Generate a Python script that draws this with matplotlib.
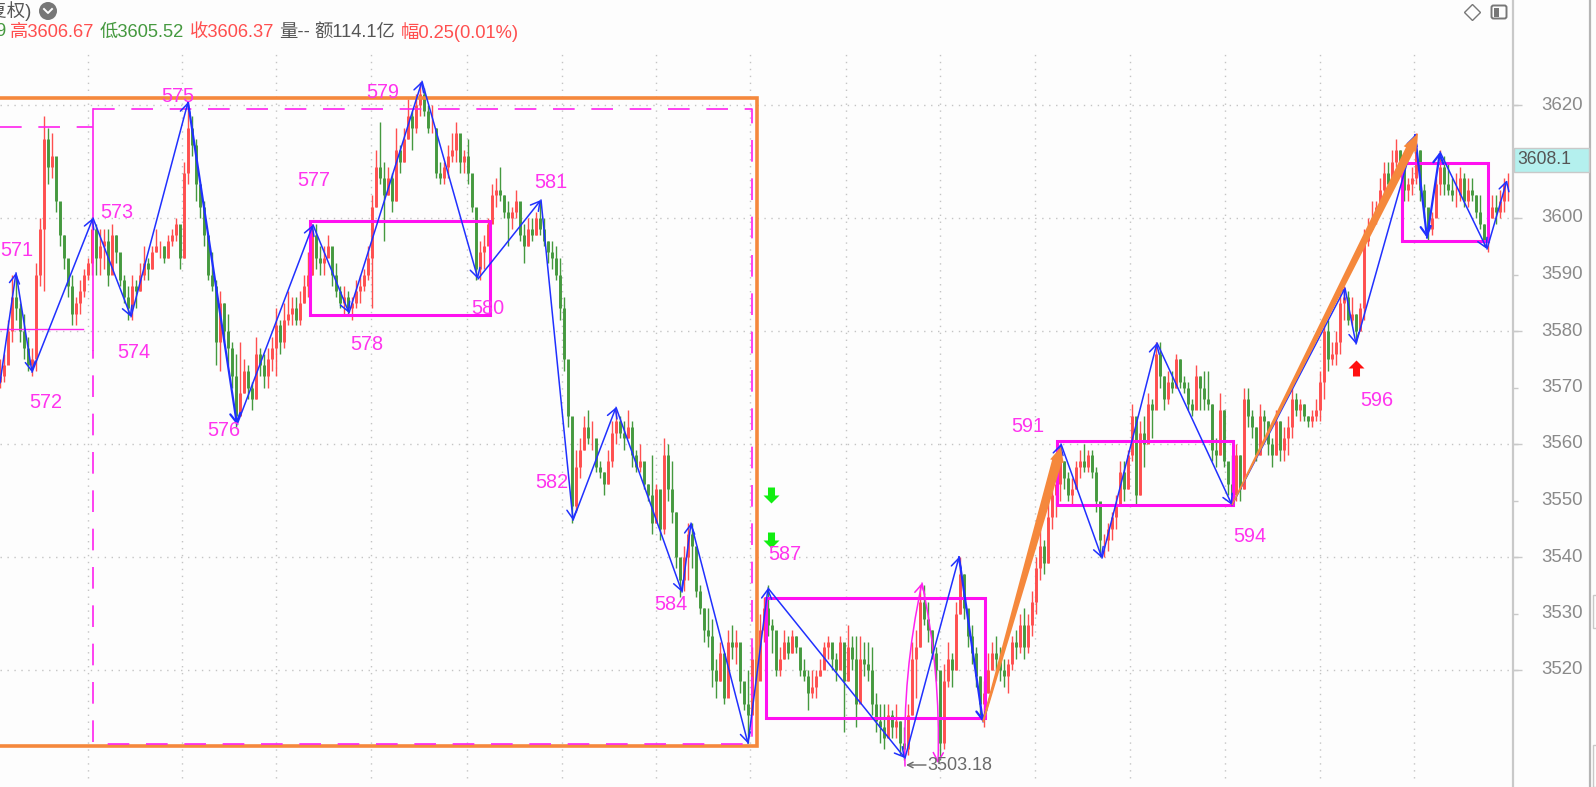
import numpy as np
import matplotlib
matplotlib.use("Agg")
import matplotlib.pyplot as plt
from matplotlib.patches import Rectangle, FancyBboxPatch, Circle
from matplotlib.path import Path
from matplotlib.lines import Line2D
from matplotlib.transforms import Affine2D

W, H = 1596, 787
FONT = ["Liberation Sans", "Noto Sans CJK SC"]
plt.rcParams["font.family"] = FONT

# one row per zigzag leg
highs = [
    3575, 3576, 3582, 3590,
    3590, 3585, 3583, 3579, 3577,
    3592, 3600, 3618, 3616, 3615, 3609, 3602, 3597, 3592, 3590, 3586, 3589, 3591, 3593, 3600,
    3599, 3598, 3598, 3598, 3599, 3597, 3591, 3590, 3588, 3590,
    3589, 3592, 3595, 3593, 3595, 3598, 3596, 3595, 3597, 3598, 3600, 3598, 3610, 3620,
    3618, 3614, 3606, 3603, 3595, 3594, 3589, 3587, 3585, 3583, 3578, 3576,
    3578, 3575, 3574, 3571, 3579, 3577, 3576, 3577, 3579, 3584, 3582, 3585, 3587, 3586, 3586, 3587, 3590, 3594, 3599,
    3599, 3595, 3595, 3597, 3594, 3592, 3588, 3588, 3587,
    3586, 3589, 3590, 3591, 3595, 3604, 3612, 3617, 3610, 3609, 3608, 3616, 3613, 3616, 3621, 3619, 3622, 3624,
    3623, 3620, 3620, 3616, 3610, 3610, 3613, 3615, 3617, 3614, 3612, 3614, 3607, 3598,
    3596, 3597, 3600, 3606, 3607, 3609, 3604, 3603, 3602, 3605, 3602, 3599, 3600, 3600, 3601, 3603,
    3600, 3596, 3596, 3595, 3593, 3586, 3574, 3563,
    3559, 3561, 3565, 3566, 3564, 3558, 3557, 3555, 3559, 3564, 3566,
    3565, 3564, 3566, 3564, 3559, 3560, 3555, 3553, 3558, 3553, 3551, 3561, 3560, 3557, 3548, 3539,
    3542, 3546, 3546,
    3540, 3535, 3531, 3531, 3529, 3522, 3525, 3522, 3527, 3528, 3527, 3524, 3517, 3520,
    3524, 3527, 3530, 3533, 3535,
    3529, 3524, 3524, 3527, 3526, 3527, 3526, 3522, 3522, 3520, 3520, 3520, 3522, 3525, 3526, 3524, 3523,
    3526, 3521, 3528, 3526, 3526, 3526, 3525, 3525, 3524, 3516, 3514, 3514, 3514, 3513, 3514, 3511, 3510,
    3514, 3525, 3527, 3535, 3535, 3532, 3527, 3524, 3516, 3521, 3525, 3523, 3532, 3540,
    3537, 3530, 3528, 3524, 3519, 3518,
    3523, 3525, 3526, 3524, 3522, 3522, 3526, 3527, 3530, 3531, 3530, 3534, 3540, 3545, 3543, 3550, 3553, 3556, 3560,
    3557, 3555, 3554, 3557, 3559, 3560, 3559, 3559, 3556, 3549,
    3544, 3546, 3548, 3551, 3557, 3557, 3559, 3567, 3559, 3564, 3565, 3569, 3568, 3578,
    3578, 3572, 3573, 3573, 3576, 3575, 3572, 3571, 3568, 3574, 3572, 3573, 3573, 3567, 3561, 3569, 3566, 3556, 3558,
    3560, 3558, 3570, 3570, 3566, 3563, 3567, 3566, 3564, 3561, 3566, 3564, 3563, 3565, 3570, 3569, 3568, 3567, 3565,
    3566, 3568, 3573, 3582, 3582, 3578, 3580, 3587, 3588,
    3587, 3586, 3583,
    3585, 3598, 3600, 3603, 3603, 3607, 3610, 3610, 3612, 3614, 3612, 3608, 3607, 3609, 3615,
    3612, 3606, 3601,
    3601, 3607, 3612,
    3611, 3610, 3607, 3608, 3609, 3608, 3607, 3607, 3604, 3604, 3599, 3602,
    3604, 3604, 3605, 3607, 3608,
]
lows = [
    3570, 3571, 3575, 3578,
    3582, 3578, 3575, 3573, 3572,
    3573, 3588, 3587, 3606, 3607, 3601, 3595, 3591, 3586, 3581, 3581, 3583, 3586, 3589, 3590,
    3590, 3590, 3591, 3588, 3592, 3592, 3588, 3585, 3582, 3582,
    3584, 3587, 3589, 3589, 3591, 3594, 3593, 3592, 3593, 3595, 3596, 3591, 3593, 3606,
    3611, 3603, 3600, 3595, 3589, 3587, 3574, 3573, 3578, 3574, 3570, 3563,
    3566, 3569, 3568, 3566, 3568, 3572, 3570, 3570, 3573, 3572, 3576, 3577, 3581, 3581, 3581, 3581, 3585, 3586, 3590,
    3591, 3590, 3590, 3594, 3588, 3586, 3584, 3583, 3583,
    3582, 3584, 3585, 3587, 3589, 3584, 3602, 3606, 3596, 3604, 3601, 3603, 3608, 3610, 3614, 3612, 3615, 3618,
    3618, 3615, 3615, 3607, 3606, 3606, 3607, 3610, 3610, 3608, 3608, 3606, 3601, 3589,
    3589, 3591, 3596, 3600, 3602, 3603, 3600, 3595, 3598, 3600, 3596, 3592, 3595, 3596, 3597, 3597,
    3595, 3592, 3591, 3589, 3582, 3573, 3563, 3546,
    3548, 3554, 3559, 3560, 3559, 3555, 3554, 3551, 3553, 3556, 3560,
    3561, 3559, 3561, 3556, 3555, 3555, 3552, 3550, 3544, 3546, 3543, 3544, 3550, 3546, 3538, 3533,
    3534, 3536, 3538,
    3533, 3530, 3525, 3524, 3517, 3515, 3518, 3514, 3518, 3522, 3521, 3516, 3513, 3507,
    3512, 3516, 3520, 3525, 3526,
    3523, 3519, 3519, 3522, 3522, 3523, 3523, 3519, 3518, 3513, 3515, 3515, 3519, 3521, 3522, 3520, 3518,
    3521, 3509, 3518, 3520, 3510, 3518, 3519, 3518, 3512, 3509, 3507, 3506, 3509, 3508, 3508, 3505, 3504,
    3505, 3512, 3515, 3524, 3528, 3525, 3522, 3518, 3504, 3506, 3517, 3517, 3520, 3530,
    3529, 3524, 3521, 3517, 3512, 3510,
    3516, 3520, 3520, 3518, 3517, 3516, 3520, 3522, 3523, 3522, 3523, 3526, 3530, 3536, 3537, 3539, 3545, 3547, 3550,
    3552, 3550, 3549, 3552, 3554, 3555, 3555, 3554, 3548, 3540,
    3540, 3541, 3543, 3545, 3551, 3550, 3552, 3557, 3549, 3551, 3556, 3561, 3561, 3567,
    3570, 3566, 3567, 3569, 3570, 3570, 3569, 3566, 3565, 3567, 3566, 3566, 3566, 3557, 3556, 3558, 3556, 3551, 3549,
    3550, 3550, 3552, 3563, 3561, 3557, 3558, 3561, 3558, 3556, 3558, 3557, 3557, 3558, 3561, 3565, 3564, 3564, 3563,
    3563, 3564, 3564, 3568, 3573, 3574, 3574, 3576, 3582,
    3581, 3581, 3578,
    3580, 3582, 3595, 3598, 3599, 3602, 3604, 3605, 3605, 3609, 3608, 3603, 3603, 3604, 3606,
    3603, 3600, 3596,
    3597, 3602, 3604,
    3604, 3604, 3603, 3602, 3603, 3602, 3602, 3603, 3600, 3598, 3595, 3594,
    3600, 3599, 3600, 3601, 3603,
]
closes = [
    3572, 3574, 3580, 3586,
    3584, 3580, 3577, 3574, 3575,
    3590, 3598, 3614, 3609, 3611, 3603, 3597, 3593, 3588, 3583, 3585, 3587, 3590, 3592, 3598,
    3593, 3595, 3596, 3590, 3597, 3594, 3589, 3586, 3584, 3588,
    3587, 3590, 3592, 3591, 3594, 3595, 3595, 3593, 3596, 3597, 3599, 3593, 3608, 3616,
    3613, 3606, 3602, 3597, 3590, 3588, 3578, 3585, 3580, 3577, 3572, 3565,
    3569, 3573, 3570, 3568, 3576, 3574, 3572, 3575, 3577, 3581, 3578, 3582, 3583, 3584, 3582, 3585, 3588, 3590, 3597,
    3593, 3592, 3593, 3595, 3590, 3587, 3585, 3586, 3584,
    3585, 3587, 3588, 3590, 3593, 3602, 3609, 3607, 3604, 3607, 3603, 3612, 3610, 3614, 3618, 3616, 3620, 3622,
    3619, 3616, 3616, 3608, 3607, 3609, 3611, 3612, 3615, 3610, 3611, 3608, 3602, 3591,
    3594, 3595, 3599, 3604, 3605, 3604, 3601, 3600, 3601, 3603, 3597, 3595, 3598, 3597, 3600, 3598,
    3596, 3594, 3593, 3590, 3584, 3575, 3565, 3549,
    3556, 3559, 3563, 3561, 3561, 3556, 3555, 3553, 3557, 3562, 3564,
    3562, 3561, 3563, 3558, 3556, 3557, 3553, 3551, 3546, 3552, 3545, 3558, 3552, 3548, 3540, 3536,
    3540, 3544, 3542,
    3534, 3531, 3527, 3526, 3520, 3518, 3523, 3515, 3525, 3524, 3525, 3518, 3514, 3512,
    3522, 3518, 3527, 3531, 3528,
    3527, 3520, 3522, 3525, 3523, 3526, 3524, 3520, 3519, 3516, 3517, 3519, 3520, 3524, 3525, 3522, 3520,
    3525, 3518, 3524, 3522, 3514, 3522, 3521, 3520, 3514, 3511, 3510, 3508, 3512, 3510, 3511, 3507, 3506,
    3512, 3522, 3524, 3532, 3529, 3527, 3523, 3520, 3507, 3518, 3522, 3520, 3530, 3537,
    3531, 3526, 3523, 3519, 3514, 3516,
    3520, 3523, 3522, 3520, 3519, 3521, 3525, 3524, 3528, 3524, 3528, 3532, 3538, 3542, 3539, 3547, 3551, 3553, 3557,
    3554, 3551, 3552, 3556, 3557, 3556, 3558, 3555, 3550, 3543,
    3543, 3545, 3547, 3549, 3555, 3552, 3558, 3565, 3551, 3562, 3560, 3567, 3566, 3576,
    3572, 3568, 3571, 3570, 3575, 3571, 3570, 3567, 3566, 3572, 3570, 3568, 3567, 3559, 3558, 3566, 3557, 3553, 3551,
    3558, 3552, 3568, 3565, 3563, 3558, 3565, 3564, 3560, 3558, 3564, 3559, 3561, 3563, 3568, 3566, 3567, 3565, 3564,
    3565, 3566, 3571, 3580, 3575, 3576, 3578, 3585, 3586,
    3582, 3583, 3580,
    3584, 3596, 3598, 3600, 3602, 3605, 3608, 3606, 3610, 3612, 3609, 3605, 3606, 3607, 3612,
    3605, 3602, 3598,
    3600, 3606, 3609,
    3606, 3605, 3604, 3604, 3607, 3603, 3605, 3604, 3601, 3599, 3596, 3600,
    3602, 3601, 3603, 3606, 3606,
]

# wave pivots, x in bars
pivot_bars = [0, 4, 8, 23.25, 32.75, 47, 59.25, 78.25, 87.25, 105.5, 119.5, 135.25, 143.25, 154,
              170.5, 172.75, 187, 192, 226.25, 239.75, 245.75, 265.25, 275.5, 289.25, 308, 336.25,
              339, 353.75, 356.75, 360, 371.75, 376.75]
pivot_prices = [3570.8, 3590.3, 3572.7, 3600, 3582.5, 3620.5, 3563.4, 3598.8, 3583.2, 3624.2, 3589.2,
                3603.2, 3546.5, 3566.5, 3533.8, 3546, 3507, 3534.5, 3504.4, 3540, 3510.8, 3560,
                3539.8, 3577.9, 3549.2, 3587.6, 3577.7, 3614.7, 3596.5, 3611.7, 3594.5, 3606.7]
heavy_legs = [5, 19, 27, 28]

# centre boxes: left, right, bottom, top
box_left = [77.5, 191.5, 264.25, 350.5]
box_right = [122.5, 246.25, 308.25, 372]
box_bottom = [3582.8, 3511.5, 3549.2, 3596]
box_top = [3599.5, 3532.7, 3560.5, 3609.7]

ytick_prices = [3620, 3600, 3590, 3580, 3570, 3560, 3550, 3540, 3530, 3520]
grid_prices = [3620, 3600, 3580, 3560, 3540, 3520]
grid_bars = [22, 45.5, 69, 92.75, 116.75, 140.5, 164, 187.5, 211.5, 235, 258.75, 282.5, 306.25, 330, 353.5]

wave_labels = ["571", "572", "573", "574", "575", "576", "577", "578", "579", "580", "581", "582",
               "584", "587", "591", "594", "596"]
label_xy = [(17, 250), (46, 402), (117, 212), (134, 352), (178, 97), (224, 430), (314, 180), (367, 344),
            (383, 93), (488, 308), (551, 183), (552, 482), (671, 605), (785, 554), (1028, 427),
            (1250, 536), (1377, 401)]

RED, GREEN = "#ff4f4f", "#45993f"
BLUE, MAGENTA, ORANGE = "#2030ff", "#ff22ee", "#f5883c"
BG = "#fdfdfd"

fig = plt.figure(figsize=(W / 100, H / 100), dpi=100, facecolor=BG)
ax = fig.add_axes([0, 0, 1, 1])
ax.set_xlim(0, 399)
ax.set_ylim(3620 - (H - 105) / 5.65, 3620 + 105 / 5.65)
ax.axis("off")
# top-left pixel coordinates for page furniture
pix = Affine2D().scale(1, -1).translate(0, H)

ax.hlines(grid_prices, 0, 378, color="#c4c4c4", lw=1, ls=(0, (1, 4)), zorder=1)
ax.vlines(grid_bars, 3500.9, 3629.2, color="#c4c4c4", lw=1, ls=(0, (1, 4)), zorder=1)

# candles
x = np.arange(len(closes))
h, l, c = np.array(highs), np.array(lows), np.array(closes)
o = np.r_[c[0] - 1, c[:-1]]
cols = [RED if a >= b else GREEN for a, b in zip(c, o)]
ax.vlines(x, l, h, colors=cols, lw=1.0, zorder=2)
ax.vlines(x, np.minimum(o, c), np.maximum(o, c), colors=cols, lw=2.1, zorder=2)

# orange frame and dashed magenta frame
ax.plot([0, 189.25, 189.25, 0], [3621.2, 3621.2, 3506.5, 3506.5], color=ORANGE, lw=2.6, zorder=4,
        solid_joinstyle="miter")
dash = (0, (13, 10))
ax.plot([23.25, 188, 188, 23.25, 23.25], [3619.3, 3619.3, 3506.9, 3506.9, 3576.6], color=MAGENTA,
        lw=1.2, ls=dash, zorder=4)
ax.plot([23.25, 23.25], [3576.6, 3619.3], color=MAGENTA, lw=1.2, zorder=4)
ax.plot([0, 23.25], [3616.1, 3616.1], color=MAGENTA, lw=1.2, ls=dash, zorder=4)
ax.plot([0, 20.75], [3580.4, 3580.4], color=MAGENTA, lw=1, zorder=4)

for x0, x1, y0, y1 in zip(box_left, box_right, box_bottom, box_top):
    ax.add_patch(Rectangle((x0, y0), x1 - x0, y1 - y0, fill=False, ec="#ff10f0", lw=2.2, zorder=4,
                           joinstyle="miter"))

# zigzag
for i in range(len(pivot_bars) - 1):
    ax.annotate("", xy=(pivot_bars[i + 1], pivot_prices[i + 1]), xytext=(pivot_bars[i], pivot_prices[i]),
                arrowprops=dict(arrowstyle="->,head_length=0.5,head_width=0.28", color=BLUE,
                                lw=1.6 if i in heavy_legs else 1.1, shrinkA=0, shrinkB=0,
                                mutation_scale=13), zorder=6)

# thin magenta up-down stroke near the low
ax.annotate("", xy=(230.5, 3535.4), xytext=(226.25, 3503),
            arrowprops=dict(arrowstyle="->,head_length=0.5,head_width=0.28", color=MAGENTA, lw=1.1,
                            shrinkA=0, shrinkB=0, mutation_scale=13,
                            connectionstyle="arc3,rad=-0.06"), zorder=5)
ax.annotate("", xy=(234.5, 3503.5), xytext=(230.5, 3535.4),
            arrowprops=dict(arrowstyle="->,head_length=0.5,head_width=0.28", color=MAGENTA, lw=1.1,
                            shrinkA=0, shrinkB=0, mutation_scale=13,
                            connectionstyle="arc3,rad=-0.06"), zorder=5)


def tapered(x0, y0, x1, y1, w0, w1, head_w, head_l):
    # tapered shaft with a solid head, widths given in pixels
    p0 = ax.transData.transform((x0, y0))
    p1 = ax.transData.transform((x1, y1))
    d = (p1 - p0) / np.hypot(*(p1 - p0))
    n = np.array([-d[1], d[0]])
    b = p1 - d * head_l
    pts = [p0 + n * w0 / 2, b + n * w1 / 2, b + n * head_w / 2, p1, b - n * head_w / 2, b - n * w1 / 2,
           p0 - n * w0 / 2]
    data = ax.transData.inverted().transform(pts)
    ax.fill(data[:, 0], data[:, 1], color=ORANGE, lw=0, zorder=7)


tapered(245.75, 3510.8, 265.25, 3559.5, 2, 10, 14, 15)
tapered(308, 3549.2, 354.5, 3615, 1.5, 9, 14, 18)

# signal arrows
arrow = [(-0.22, 0.5), (0.22, 0.5), (0.22, 0), (0.5, 0), (0, -0.5), (-0.5, 0), (-0.22, 0), (-0.22, 0.5)]
flip = [(a, -b) for a, b in arrow]
ax.plot([192.75, 192.75], [3551, 3543], ls="", marker=Path(arrow), ms=11.5, color="#11ee11", mew=0, zorder=8)
ax.plot([339], [3573.4], ls="", marker=Path(flip), ms=11.5, color="#ff1010", mew=0, zorder=8)

for s, (px, py) in zip(wave_labels, label_xy):
    ax.text(px, py, s, transform=pix, color="#ff33ee", fontsize=14.3, ha="center", va="center", zorder=9)

# low price marker
ax.annotate("", xy=(906, 765), xytext=(926, 765), xycoords=pix, textcoords=pix,
            arrowprops=dict(arrowstyle="->", color="#666666", lw=1, shrinkA=0, shrinkB=0), zorder=9)
ax.text(927, 766, "3503.18", transform=pix, color="#6a6a6a", fontsize=13, ha="left", va="center", zorder=9)

# header
ax.text(31, 11, "前复权)", transform=pix, color="#555555", fontsize=13.2, ha="right", va="center")
fig.add_artist(Circle((48, 11), 9, transform=pix, color="#777777", lw=0))
fig.add_artist(Line2D([44, 48, 52], [9, 13, 9], transform=pix, color="white", lw=1.4))
pieces = [(5, "9", GREEN, "right"), (10, "高3606.67", RED, "left"), (100, "低3605.52", GREEN, "left"),
          (190, "收3606.37", RED, "left"), (279, "量--", "#555555", "left"),
          (314, "额114.1亿", "#555555", "left"), (401, "幅0.25(0.01%)", RED, "left")]
for px, s, col, ha in pieces:
    ax.text(px, 32, s, transform=pix, color=col, fontsize=13.2, ha=ha, va="center")

# price axis
ax.plot([378.25, 378.25], ax.get_ylim(), color="#c9c9c9", lw=1.6, zorder=10)
ax.plot([397.6, 397.6], ax.get_ylim(), color="#b5b5b5", lw=1.6, zorder=10)
ax.hlines(grid_prices, 378.25, 380.5, color="#c9c9c9", lw=1, zorder=10)
ax.hlines(ytick_prices, 378.25, 379.4, color="#c9c9c9", lw=1, zorder=10)
for p in ytick_prices:
    ax.text(390.6, p, str(p), color="#8a8a8a", fontsize=13.4, ha="center", va="center", zorder=11)
ax.add_patch(Rectangle((1514, 148), 75, 24, transform=pix, fc="#b4f0ee", ec="#c9c9c9", lw=1, zorder=10))
ax.text(1517, 160, "3608.1", transform=pix, color="#555555", fontsize=12.7, ha="left", va="center", zorder=11)
for y0, y1 in [(595, 628), (745, 787)]:
    fig.add_artist(Rectangle((1592.5, y0), 4, y1 - y0, transform=pix, fc="none", ec="#c8c8c8", lw=1))

# corner icons
ax.plot([1472 / 4], [3620 + (105 - 12) / 5.65], ls="", marker="D", ms=8.5, mfc="none", mec="#777777", mew=1)
fig.add_artist(FancyBboxPatch((1491.5, 5.5), 15, 13, boxstyle="round,pad=0,rounding_size=2", transform=pix,
                              fc="none", ec="#777777", lw=1.4))
fig.add_artist(Rectangle((1494, 7.5), 4.5, 9, transform=pix, fc="#777777", lw=0))

fig.savefig("out.png", dpi=100, facecolor=BG)
